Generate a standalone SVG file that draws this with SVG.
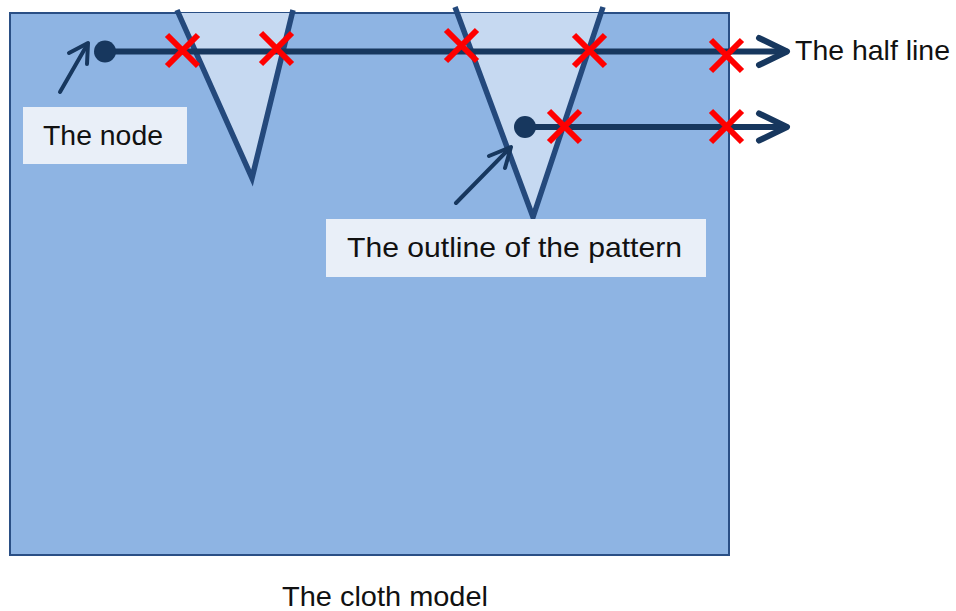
<svg xmlns="http://www.w3.org/2000/svg" width="956" height="611" viewBox="0 0 956 611">
<style>
.lbl{font-family:"Liberation Sans",Arial,sans-serif;font-size:28px;fill:#111}
.box{fill:#E9EFF8}
.tri{fill:#C6D9F1}
.edge{fill:none;stroke:#24497C;stroke-width:5.5;stroke-linecap:butt;stroke-linejoin:miter}
.half{fill:none;stroke:#17375E;stroke-width:6;stroke-linecap:round;stroke-linejoin:round}
.ptr{fill:none;stroke:#17375E;stroke-width:4;stroke-linecap:round;stroke-linejoin:round}
.x{stroke:#FF0000;stroke-width:6;stroke-linecap:butt}
</style>
<rect width="956" height="611" fill="#FFFFFF"/>
<g id="cloth">
<rect x="10" y="13" width="719" height="542" fill="#8EB4E3" stroke="#2A4F85" stroke-width="2"/>
</g>
<g id="pattern1">
<polygon class="tri" points="178,13 292,13 252,178"/>
<polyline class="edge" points="177,10 252,178 293,10"/>
</g>
<g id="pattern2">
<polygon class="tri" points="457,13 601,13 533,217"/>
<polyline class="edge" points="455,7 533,217 603,7"/>
</g>
<g id="connectors">
<line class="half" x1="105" y1="51.5" x2="786" y2="51.5"/>
<polyline class="half" points="759,38 787,51.5 759,65"/>
<line class="half" x1="525" y1="127" x2="786" y2="127"/>
<polyline class="half" points="759,113.5 787,127 759,140.5"/>
<line class="ptr" x1="60" y1="92" x2="87" y2="45"/>
<polyline class="ptr" points="69,53 88,43 87,64"/>
<line class="ptr" x1="456" y1="203" x2="509" y2="149"/>
<polyline class="ptr" points="489,156 511,147 505,168"/>
</g>
<g id="node1"><circle cx="105" cy="51.5" r="11" fill="#17375E"/></g>
<g id="node2"><circle cx="525" cy="127" r="11" fill="#17375E"/></g>
<g id="crossings">
<path class="x" d="M167,35 L198,66 M198,35 L167,66"/>
<path class="x" d="M261,33 L292,64 M292,33 L261,64"/>
<path class="x" d="M446,30 L477,61 M477,30 L446,61"/>
<path class="x" d="M574,35 L605,66 M605,35 L574,66"/>
<path class="x" d="M711,40 L742,71 M742,40 L711,71"/>
<path class="x" d="M549,111 L580,142 M580,111 L549,142"/>
<path class="x" d="M711,111 L742,142 M742,111 L711,142"/>
</g>
<g id="label-node">
<rect class="box" x="23" y="107" width="164" height="57"/>
<text class="lbl" x="43" y="145" textLength="120" lengthAdjust="spacingAndGlyphs">The node</text>
</g>
<g id="label-outline">
<rect class="box" x="326" y="219" width="380" height="58"/>
<text class="lbl" x="347" y="257" textLength="335" lengthAdjust="spacingAndGlyphs">The outline of the pattern</text>
</g>
<g id="label-half">
<text class="lbl" x="795" y="60" textLength="155" lengthAdjust="spacingAndGlyphs">The half line</text>
</g>
<g id="label-cloth">
<text class="lbl" x="282" y="606" textLength="206" lengthAdjust="spacingAndGlyphs">The cloth model</text>
</g>
</svg>
